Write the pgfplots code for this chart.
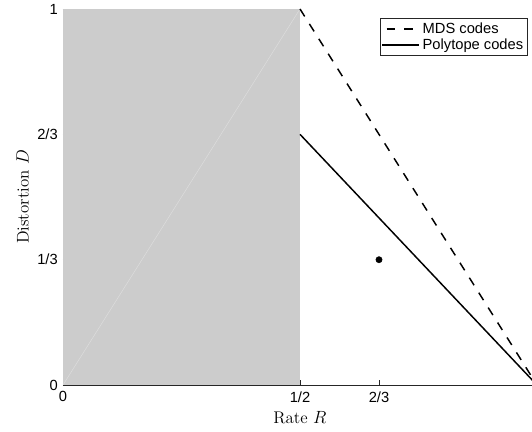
\documentclass[border=0pt]{standalone}
\usepackage{fontspec}
\newfontfamily\hv{Liberation Sans}
\usepackage{pgfplots}
\pgfplotsset{compat=1.18}
\definecolor{axgray}{gray}{0.15}
\definecolor{regiongray}{gray}{0.8}
\definecolor{diaggray}{gray}{0.87}
\begin{document}
\begin{tikzpicture}
\useasboundingbox (-42.8pt,-31.3pt) rectangle (318.9pt,261.8pt);
\begin{axis}[
    scale only axis,
    width=322.3pt, height=255.7pt,
    xmin=0, xmax=1,
    ymin=0, ymax=1,
    axis x line*=bottom,
    axis y line*=left,
    axis line style={axgray, line width=0.5pt, -},
    tick style={axgray, line width=0.5pt},
    tick align=inside,
    major tick length=3.4pt,
    xtick={0,0.5,0.6667},
    xticklabels={0,1/2,2/3},
    ytick={0,0.3333,0.6667,1},
    yticklabels={0,1/3,2/3,1},
    ticklabel style={font=\hv\fontsize{10}{12}\selectfont, text=black},
    xticklabel style={yshift=-1pt},
    xlabel={Rate $R$},
    ylabel={Distortion $D$},
    label style={font=\fontsize{11.5}{13}\selectfont},
    xlabel style={yshift=1pt},
    ylabel style={yshift=-1pt},
    legend style={
        at={(0.981,0.976)}, anchor=north east,
        font=\hv\fontsize{10}{11}\selectfont,
        draw=axgray, line width=0.5pt,
        inner sep=1pt, row sep=-2pt,
        cells={anchor=west},
    },
    legend image code/.code={
        \draw[#1, dash phase=-3pt] (0pt,0pt) -- (25pt,0pt);
    },
]
% region shaded for R < 1/2
\addplot[fill=regiongray, draw=none, forget plot]
    coordinates {(0,0) (0.5,0) (0.5,1) (0,1)} -- cycle;
\addplot[diaggray, line width=0.3pt, forget plot]
    coordinates {(0,0) (0.5,1)};

\addplot[black, line width=1pt, dash pattern=on 6pt off 6pt]
    coordinates {(0.5,1) (1,0)};
\addplot[black, line width=1pt]
    coordinates {(0.5,0.6667) (1,0)};

\addplot[only marks, mark=*, mark size=2.1pt, black, forget plot]
    coordinates {(0.6667,0.3333)};

\legend{MDS codes, Polytope codes}
\end{axis}
\end{tikzpicture}
\end{document}
